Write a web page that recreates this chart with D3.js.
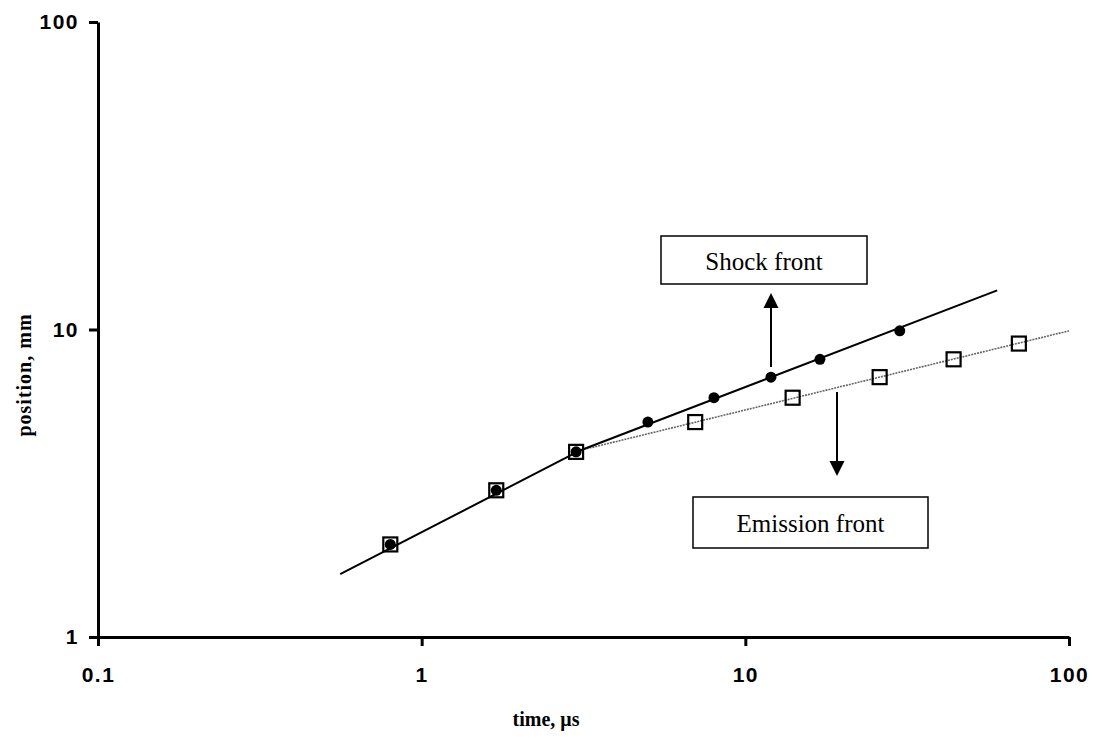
<!DOCTYPE html>
<html>
<head>
<meta charset="utf-8">
<script src="https://cdn.jsdelivr.net/npm/d3@7"></script>
<style>
  body { margin: 0; background: #fff; }
  .tick-label { font-family: "Liberation Sans", Arial, sans-serif; font-weight: bold; font-size: 21px; letter-spacing: 1.5px; fill: #000; }
  .axis-title { font-family: "Liberation Serif", "Times New Roman", serif; font-weight: bold; fill: #000; }
  .note { font-family: "Liberation Serif", "Times New Roman", serif; font-size: 25px; fill: #000; }
</style>
</head>
<body>
<div id="graph"></div>
<script>
// data (time in microseconds, position in mm)
var shockTime = [0.8, 1.7, 3, 5, 8, 12, 17, 30];
var shockPos = [2, 3, 4, 5, 6, 7, 8, 9.9];
var emissionTime = [0.8, 1.7, 3, 7, 14, 26, 44, 70];
var emissionPos = [2, 3, 4, 5, 6, 7, 8, 9];

// fitted lines (break points)
var shockFitTime = [0.56, 3.1, 60];
var shockFitPos = [1.6, 4.05, 13.4];
var emissionFitTime = [3.1, 100];
var emissionFitPos = [4.05, 9.9];

var xTicks = [0.1, 1, 10, 100];
var yTicks = [1, 10, 100];

var W = 1093, H = 745;
var x0 = 98, x1 = 1069, yBottom = 637, yTop = 22;

var svg = d3.select("#graph").append("svg")
  .attr("width", W)
  .attr("height", H);

var x = d3.scaleLog().domain([0.1, 100]).range([x0, x1]);
var y = d3.scaleLog().domain([1, 100]).range([yBottom, yTop]);

// axes
var xAxis = svg.append("g")
  .attr("transform", "translate(0," + yBottom + ")")
  .call(d3.axisBottom(x).tickValues(xTicks).tickSize(9).tickSizeOuter(0).tickFormat(d3.format("~g")));
xAxis.select(".domain").attr("stroke-width", 3);
xAxis.selectAll(".tick line").attr("stroke-width", 3);
xAxis.selectAll(".tick text").attr("class", "tick-label").attr("y", 30).attr("dy", "0.71em");

var yAxis = svg.append("g")
  .attr("transform", "translate(" + x0 + ",0)")
  .call(d3.axisLeft(y).tickValues(yTicks).tickSize(9).tickSizeOuter(0).tickFormat(d3.format("~g")));
yAxis.select(".domain").attr("stroke-width", 3);
yAxis.selectAll(".tick line").attr("stroke-width", 3);
yAxis.selectAll(".tick text").attr("class", "tick-label").attr("x", -19);

// axis titles
svg.append("text")
  .attr("class", "axis-title")
  .attr("x", 546)
  .attr("y", 726)
  .attr("text-anchor", "middle")
  .style("font-size", "20px")
  .text("time, \u03bcs");

svg.append("text")
  .attr("class", "axis-title")
  .attr("transform", "translate(31,375) rotate(-90)")
  .attr("text-anchor", "middle")
  .style("font-size", "20px")
  .style("letter-spacing", "1px")
  .text("position, mm");

// fitted lines
var line = d3.line()
  .x(function(d) { return x(d[0]); })
  .y(function(d) { return y(d[1]); });

svg.append("path")
  .datum(emissionFitTime.map(function(t, i) { return [t, emissionFitPos[i]]; }))
  .attr("fill", "none")
  .attr("stroke", "#666")
  .attr("stroke-width", 1.6)
  .attr("stroke-dasharray", "2,1")
  .attr("d", line);

svg.append("path")
  .datum(shockFitTime.map(function(t, i) { return [t, shockFitPos[i]]; }))
  .attr("fill", "none")
  .attr("stroke", "#000")
  .attr("stroke-width", 2)
  .attr("d", line);

// emission front markers (open squares)
var sq = 14;
svg.selectAll(".sq")
  .data(emissionTime.map(function(t, i) { return [t, emissionPos[i]]; }))
  .enter().append("rect")
  .attr("class", "sq")
  .attr("x", function(d) { return x(d[0]) - sq / 2; })
  .attr("y", function(d) { return y(d[1]) - sq / 2; })
  .attr("width", sq)
  .attr("height", sq)
  .attr("fill", "none")
  .attr("stroke", "#000")
  .attr("stroke-width", 2.2);

// shock front markers (filled circles)
svg.selectAll(".dot")
  .data(shockTime.map(function(t, i) { return [t, shockPos[i]]; }))
  .enter().append("circle")
  .attr("class", "dot")
  .attr("cx", function(d) { return x(d[0]); })
  .attr("cy", function(d) { return y(d[1]); })
  .attr("r", 5.5)
  .attr("fill", "#000");

// annotation boxes
function noteBox(left, top, w, h, label, baseline) {
  svg.append("rect")
    .attr("x", left).attr("y", top)
    .attr("width", w).attr("height", h)
    .attr("fill", "#fff")
    .attr("stroke", "#000")
    .attr("stroke-width", 1.5);
  svg.append("text")
    .attr("class", "note")
    .attr("x", left + w / 2)
    .attr("y", baseline)
    .attr("text-anchor", "middle")
    .text(label);
}
noteBox(661, 236, 206, 48, "Shock front", 270);
noteBox(693, 497, 235, 51, "Emission front", 532);

// arrows
function arrow(xa, yFrom, yTo) {
  var dir = yTo < yFrom ? 1 : -1;
  svg.append("line")
    .attr("x1", xa).attr("y1", yFrom)
    .attr("x2", xa).attr("y2", yTo + dir * 12)
    .attr("stroke", "#000")
    .attr("stroke-width", 2);
  svg.append("path")
    .attr("d", "M" + xa + "," + yTo + "L" + (xa - 7.5) + "," + (yTo + dir * 15) + "L" + (xa + 7.5) + "," + (yTo + dir * 15) + "Z")
    .attr("fill", "#000");
}
arrow(771, 367, 293);
arrow(837, 392, 476);
</script>
</body>
</html>
